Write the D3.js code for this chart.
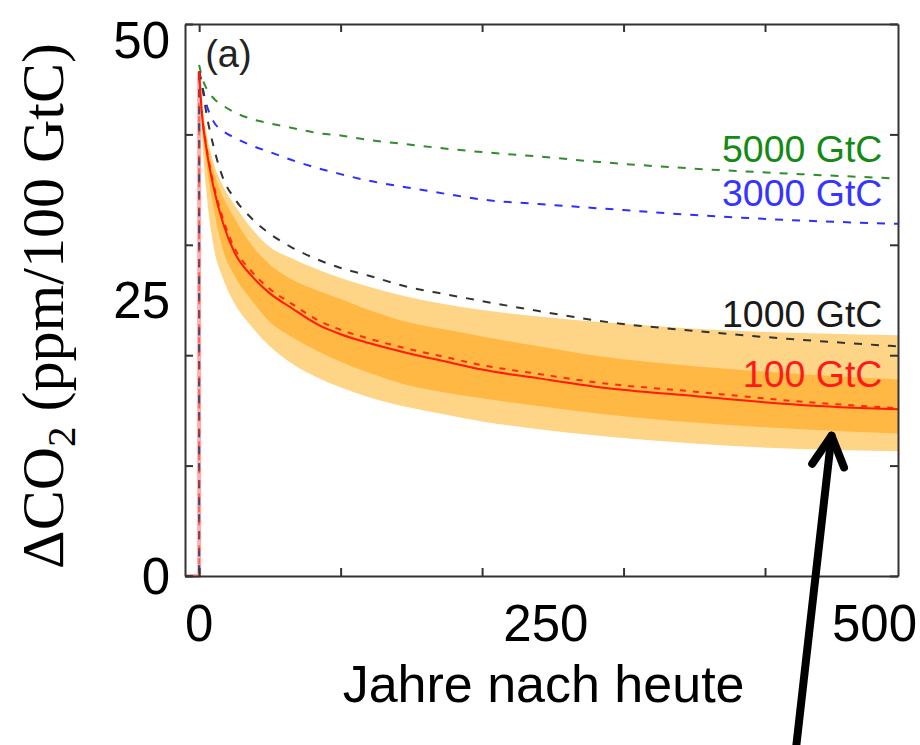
<!DOCTYPE html>
<html>
<head>
<meta charset="utf-8">
<script src="https://cdn.jsdelivr.net/npm/d3@7"></script>
<style>
  body { margin: 0; background: #fff; }
  svg { display: block; }
</style>
</head>
<body>
<svg id="chart" width="920" height="745"></svg>
<script>
// years after the pulse (t = 0)
const years = [0, 2, 5, 10, 17, 25, 37, 50, 65, 85, 100, 120, 147, 175, 200, 240, 283, 350, 425, 494];

// dCO2 per 100 GtC for each pulse size
const gtc5000 = [46.3, 45.2, 44.2, 43.3, 42.6, 42.0, 41.4, 41.0, 40.6, 40.1, 39.9, 39.5, 39.1, 38.7, 38.4, 38.0, 37.5, 36.9, 36.4, 36.0];
const gtc3000 = [45.7, 44.5, 42.8, 41.2, 40.3, 39.7, 39.0, 38.4, 37.7, 36.9, 36.4, 35.8, 35.2, 34.6, 34.1, 33.7, 33.3, 32.7, 32.2, 31.9];
const gtc1000 = [45.7, 44.5, 42.0, 39.0, 36.0, 34.2, 32.4, 31.0, 29.8, 28.6, 27.9, 27.2, 26.2, 25.5, 24.9, 24.0, 23.1, 22.2, 21.4, 20.8];
const gtc100 = [45.7, 41.8, 38.8, 35.3, 31.9, 29.3, 27.2, 25.6, 24.3, 22.7, 21.9, 21.1, 20.2, 19.4, 18.7, 17.9, 17.1, 16.3, 15.5, 15.1];
const gtc100Alt = [45.7, 41.9, 39.0, 35.6, 32.3, 29.7, 27.6, 26.0, 24.7, 23.1, 22.3, 21.5, 20.6, 19.8, 19.1, 18.3, 17.5, 16.7, 15.8, 15.2];

// model spread for the 100 GtC pulse (outer and inner ranges)
const outerHigh = [45.7, 43.0, 40.3, 37.5, 35.3, 33.6, 31.5, 29.8, 28.8, 27.7, 27.0, 26.2, 25.3, 24.6, 24.1, 23.5, 23.0, 22.4, 22.0, 21.8];
const innerHigh = [45.7, 42.5, 39.8, 36.8, 34.3, 32.4, 30.0, 28.2, 26.9, 25.8, 25.1, 24.1, 23.0, 22.3, 21.7, 20.8, 19.9, 19.0, 18.3, 17.8];
const innerLow = [45.7, 41.0, 37.5, 33.5, 29.5, 27.2, 25.0, 23.0, 21.7, 20.3, 19.4, 18.4, 17.3, 16.6, 16.1, 15.4, 14.7, 13.9, 13.3, 12.9];
const outerLow = [45.7, 40.0, 35.0, 30.0, 26.9, 24.7, 22.6, 20.8, 19.3, 17.9, 17.1, 16.2, 15.3, 14.6, 14.0, 13.3, 12.7, 12.0, 11.5, 11.3];

// before the pulse
const preYears = [-10, 0];
const preValues = [0, 0];

const xTicks = [0, 100, 200, 300, 400];
const xLabels = [0, 250, 500];
const yTicks = [0, 10, 20, 30, 40, 50];
const yLabels = [0, 25, 50];

// arrow annotation (tail, tip) in data units
const arrowTail = [422, -15.5];
const arrowTip = [447, 12.7];

const width = 920, height = 745;
const margin = {top: 24, right: 22, bottom: 169, left: 185};

const svg = d3.select('#chart');

const x = d3.scaleLinear().domain([-10, 494]).range([margin.left, width - margin.right]);
const y = d3.scaleLinear().domain([0, 50]).range([height - margin.bottom, margin.top]);

const sans = '"Liberation Sans", Arial, Helvetica, sans-serif';
const serif = '"Liberation Serif", "Times New Roman", Times, serif';

let series = [
    {name: '5000 GtC', values: gtc5000, color: '#2f8c2f', text: '#138a13', dash: '8,9', dy: -17},
    {name: '3000 GtC', values: gtc3000, color: '#2e2eff', text: '#3535ff', dash: '8,9', dy: -18},
    {name: '1000 GtC', values: gtc1000, color: '#333', text: '#1a1a1a', dash: '8,9', dy: -19},
    {name: null, values: gtc100Alt, color: '#ff2a10', dash: '6,7'},
    {name: '100 GtC', values: gtc100, color: '#ff1a00', text: '#ff1a1a', dash: null, dy: -22}
];

let pts = vals => years.map((t, i) => [t, vals[i]]);

// bands
let area = d3.area()
    .x(d => x(d[0]))
    .y0(d => y(d[1]))
    .y1(d => y(d[2]))
    .curve(d3.curveMonotoneX);

svg.append('path')
    .datum(years.map((t, i) => [t, outerLow[i], outerHigh[i]]))
    .attr('fill', '#fed486')
    .attr('d', area);

svg.append('path')
    .datum(years.map((t, i) => [t, innerLow[i], innerHigh[i]]))
    .attr('fill', '#feb843')
    .attr('d', area);

let line = d3.line()
    .x(d => x(d[0]))
    .y(d => y(d[1]))
    .curve(d3.curveMonotoneX);

let stepLine = d3.line()
    .x(d => x(d[0]))
    .y(d => y(d[1]));

// pulse step at t = 0 (all lines overlap here)
svg.append('path')
    .datum(preYears.map((t, i) => [t, preValues[i]]).concat([[0, gtc100[0]]]))
    .attr('fill', 'none')
    .attr('stroke', '#ff6a6a')
    .attr('stroke-opacity', 0.55)
    .attr('stroke-width', 4)
    .attr('d', stepLine);

series.forEach(s => {
    if (!s.dash) return;
    svg.append('path')
        .datum(preYears.map((t, i) => [t, preValues[i]]).concat([[0, s.values[0]]]))
        .attr('fill', 'none')
        .attr('stroke', s.color)
        .attr('stroke-opacity', 0.55)
        .attr('stroke-width', 2)
        .attr('stroke-dasharray', s.dash)
        .attr('d', stepLine);
});

series.forEach(s => {
    svg.append('path')
        .datum(pts(s.values))
        .attr('fill', 'none')
        .attr('stroke', s.color)
        .attr('stroke-width', 2)
        .attr('stroke-dasharray', s.dash)
        .attr('d', line);
});

// frame with inward ticks on all four sides
let frame = svg.append('g').attr('class', 'frame');
let styleAxis = g => {
    g.select('.domain').attr('stroke', '#333').attr('stroke-width', 2);
    g.selectAll('.tick line').attr('stroke', '#333').attr('stroke-width', 2);
    g.selectAll('.tick text').remove();
};

frame.append('g')
    .attr('transform', `translate(0,${y(0)})`)
    .call(d3.axisBottom(x).tickValues(xTicks).tickSize(-8).tickSizeOuter(0))
    .call(styleAxis);
frame.append('g')
    .attr('transform', `translate(0,${y(50)})`)
    .call(d3.axisTop(x).tickValues(xTicks).tickSize(-8).tickSizeOuter(0))
    .call(styleAxis);
frame.append('g')
    .attr('transform', `translate(${x.range()[0]},0)`)
    .call(d3.axisLeft(y).tickValues(yTicks).tickSize(-8).tickSizeOuter(0))
    .call(styleAxis);
frame.append('g')
    .attr('transform', `translate(${x.range()[1]},0)`)
    .call(d3.axisRight(y).tickValues(yTicks).tickSize(-8).tickSizeOuter(0))
    .call(styleAxis);

// tick labels
svg.append('g').selectAll('text')
    .data(xLabels)
    .join('text')
    .attr('x', d => x(d) - (d === 250 ? 7 : 0))
    .attr('y', 641)
    .attr('text-anchor', 'middle')
    .attr('font-family', sans)
    .attr('font-size', 51)
    .attr('fill', '#000')
    .text(d => d)
    .each(function() {
        // keep the last label inside the window
        let b = this.getBBox();
        if (b.x + b.width > width - 3) {
            d3.select(this).attr('x', +d3.select(this).attr('x') - (b.x + b.width - (width - 3)));
        }
    });

svg.append('g').selectAll('text')
    .data(yLabels)
    .join('text')
    .attr('x', x.range()[0] - 15)
    .attr('y', d => y(d))
    .attr('dy', '0.36em')
    .attr('text-anchor', 'end')
    .attr('font-family', sans)
    .attr('font-size', 51)
    .attr('fill', '#000')
    .text(d => d)
    .each(function() {
        let b = this.getBBox();
        if (b.y < 12) {
            d3.select(this).attr('y', +d3.select(this).attr('y') + (12 - b.y));
        }
    });

// axis titles
svg.append('text')
    .attr('x', (x(0) + x(494)) / 2 - 5)
    .attr('y', 702)
    .attr('text-anchor', 'middle')
    .attr('font-family', sans)
    .attr('font-size', 52)
    .attr('fill', '#000')
    .text('Jahre nach heute');

let yTitle = svg.append('text')
    .attr('transform', `translate(63,${(y(0) + y(50)) / 2 + 6}) rotate(-90)`)
    .attr('text-anchor', 'middle')
    .attr('font-family', serif)
    .attr('font-size', 60)
    .attr('fill', '#000');
yTitle.append('tspan').text('\u0394CO');
yTitle.append('tspan').attr('font-size', 41).attr('dy', 12).text('2');
yTitle.append('tspan').attr('dy', -12).text(' (ppm/100 GtC)');

// panel tag
svg.append('text')
    .attr('x', x(0) + 6)
    .attr('y', y(50) + 43)
    .attr('font-family', sans)
    .attr('font-size', 38)
    .attr('fill', '#222')
    .text('(a)');

// series labels at the right end
series.filter(s => s.name).forEach(s => {
    svg.append('text')
        .attr('x', x(483))
        .attr('y', y(s.values[s.values.length - 1]) + s.dy)
        .attr('text-anchor', 'end')
        .attr('font-family', sans)
        .attr('font-size', 37.5)
        .attr('fill', s.text)
        .text(s.name);
});

// arrow pointing at the band
let tail = [x(arrowTail[0]), y(arrowTail[1])];
let tip = [x(arrowTip[0]), y(arrowTip[1])];
let len = Math.hypot(tip[0] - tail[0], tip[1] - tail[1]);
let ux = (tip[0] - tail[0]) / len, uy = (tip[1] - tail[1]) / len;
let back = [tip[0] - ux * 30, tip[1] - uy * 30];
let wingL = [back[0] + uy * 16, back[1] - ux * 16];
let wingR = [back[0] - uy * 16, back[1] + ux * 16];

let arrow = svg.append('g')
    .attr('fill', 'none')
    .attr('stroke', '#000')
    .attr('stroke-width', 8)
    .attr('stroke-linecap', 'round')
    .attr('stroke-linejoin', 'round');
arrow.append('path').attr('d', d3.line()([tail, tip]));
arrow.append('path').attr('d', d3.line()([wingL, tip, wingR]));
</script>
</body>
</html>
